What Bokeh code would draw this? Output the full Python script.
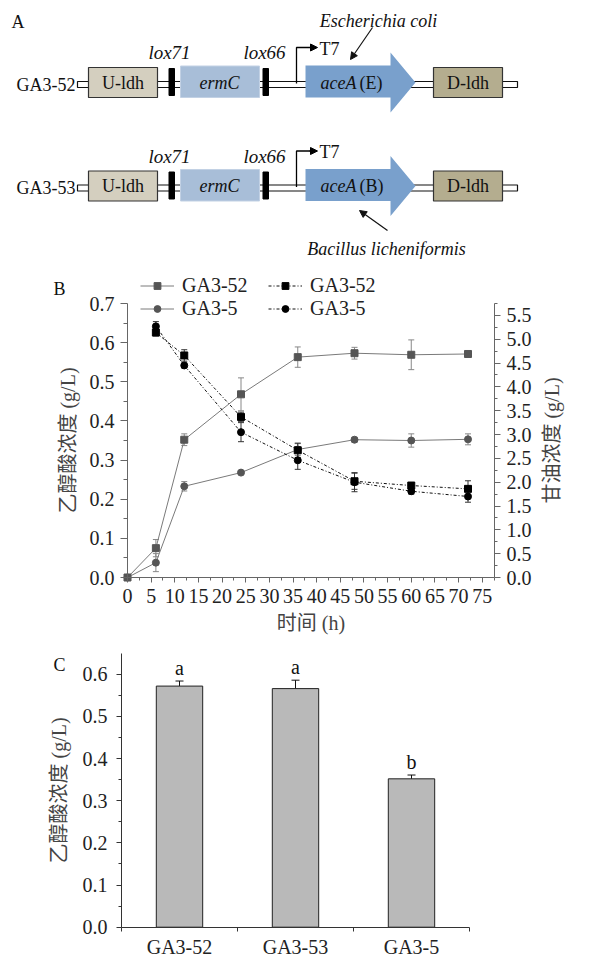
import math
from bokeh.plotting import figure
from bokeh.models import (Range1d, LinearAxis, FixedTicker, Whisker, TeeHead, ColumnDataSource,
                          Legend, LegendItem, Arrow, NormalHead, Label, NumeralTickFormatter)
from bokeh.embed import file_html
from bokeh.resources import INLINE
from bokeh.core.properties import value

# ---------------- data ----------------
hours = [0, 6, 12, 24, 36, 48, 60, 72]
ga52_acid = [0.0, 0.075, 0.352, 0.468, 0.563, 0.573, 0.569, 0.571]
ga52_acid_err = [0.0, 0.022, 0.015, 0.042, 0.026, 0.015, 0.038, 0.006]
ga5_acid = [0.0, 0.038, 0.233, 0.268, 0.327, 0.352, 0.350, 0.353]
ga5_acid_err = [0.0, 0.023, 0.012, 0.003, 0.015, 0.006, 0.017, 0.014]

gly_hours = [6, 12, 24, 36, 48, 60, 72]
ga52_gly = [5.14, 4.66, 3.37, 2.67, 2.02, 1.93, 1.86]
ga52_gly_err = [0.07, 0.12, 0.10, 0.15, 0.17, 0.06, 0.17]
ga5_gly = [5.27, 4.45, 3.05, 2.46, 2.00, 1.81, 1.70]
ga5_gly_err = [0.10, 0.05, 0.20, 0.19, 0.20, 0.06, 0.12]

strains = ["GA3-52", "GA3-53", "GA3-5"]
final_acid = [0.572, 0.566, 0.352]
final_acid_err = [0.012, 0.020, 0.009]
sig_letters = ["a", "a", "b"]

x_ticks = [0, 5, 10, 15, 20, 25, 30, 35, 40, 45, 50, 55, 60, 65, 70, 75]
acid_ticks = [0.0, 0.1, 0.2, 0.3, 0.4, 0.5, 0.6, 0.7]
gly_ticks = [0.0, 0.5, 1.0, 1.5, 2.0, 2.5, 3.0, 3.5, 4.0, 4.5, 5.0, 5.5]
bar_ticks = [0.0, 0.1, 0.2, 0.3, 0.4, 0.5, 0.6]

constructs = ["GA3-52", "GA3-53"]
acea_origin = ["(E)", "(B)"]
species = ["Escherichia coli", "Bacillus licheniformis"]

SERIF = "'Liberation Serif', 'Times New Roman', serif"
CJK = "'Liberation Serif', 'Noto Sans CJK SC', serif"


def x_span(px_lo, px_hi, v_lo, v_hi, width):
    """data range whose v_lo..v_hi lands on canvas pixels px_lo..px_hi"""
    s = (px_hi - px_lo) / (v_hi - v_lo)
    return v_lo - px_lo / s, v_lo + (width - px_lo) / s


def y_span(px_bottom, px_top, v_lo, v_hi, height):
    s = (px_bottom - px_top) / (v_hi - v_lo)
    return v_lo - (height - px_bottom) / s, v_lo + px_bottom / s


# ---------------- panel A (schematic) ----------------
pA = figure(width=612, height=270, x_range=Range1d(0, 612), y_range=Range1d(270, 0),
            output_backend="svg", toolbar_location=None, min_border=0,
            x_axis_location=None, y_axis_location=None)
pA.grid.visible = False
pA.outline_line_color = None

row_y = [82.0, 185.5]
lefts = lambda v: [v for _ in row_y]

def txt(x, y, t, size="18px", style="normal", align="center", color="#111"):
    pA.text(x=x, y=y, text=t, text_font=value(SERIF), text_font_size=value(size),
            text_font_style=style, text_align=align, text_baseline="middle", text_color=color)

pA.quad(left=lefts(77), right=lefts(517), top=[y - 1 for y in row_y], bottom=[y + 5 for y in row_y],
        fill_color="white", line_color="#111", line_width=1.2)
pA.quad(left=lefts(88), right=lefts(157), top=[y - 15 for y in row_y], bottom=[y + 15 for y in row_y],
        fill_color="#d4cfbf", line_color="#333", line_width=1.2)
pA.quad(left=lefts(180), right=lefts(259), top=[y - 16.5 for y in row_y], bottom=[y + 15 for y in row_y],
        fill_color="#a8bed8", line_color="#c2d1e4", line_width=1)
for lx in (168.5, 262.5):
    pA.quad(left=lefts(lx), right=lefts(lx + 5.5), top=[y - 14 for y in row_y], bottom=[y + 13 for y in row_y],
            fill_color="#000", line_color="#000")
pA.patches(xs=[[305, 390, 390, 415, 390, 390, 305] for _ in row_y],
           ys=[[y - 17, y - 17, y - 30, y, y + 30, y + 15, y + 15] for y in row_y],
           fill_color="#79a0cc", line_color=None)
pA.quad(left=lefts(433), right=lefts(502), top=[y - 15 for y in row_y], bottom=[y + 15 for y in row_y],
        fill_color="#b4ad8f", line_color="#333", line_width=1.2)
pA.multi_line(xs=[[296, 296, 311] for _ in row_y], ys=[[y + 1, y - 35, y - 35] for y in row_y],
              line_color="#000", line_width=1.3)
for y in row_y:
    pA.add_layout(Arrow(x_start=309, y_start=y - 35, x_end=317, y_end=y - 35, line_color="#000",
                        line_width=1, end=NormalHead(size=7, fill_color="#000", line_color="#000")))
txt([319 for _ in row_y], [y - 34 for y in row_y], ["T7", "T7"], align="left")

txt([75 for _ in row_y], [y + 2 for y in row_y], constructs, align="right")
txt([122.5 for _ in row_y], [y for y in row_y], ["U-ldh", "U-ldh"])
txt([467.5 for _ in row_y], [y for y in row_y], ["D-ldh", "D-ldh"])
txt([219 for _ in row_y], [y for y in row_y], ["ermC", "ermC"], style="italic")
txt([169 for _ in row_y], [y - 30 for y in row_y], ["lox71", "lox71"], size="19px", style="italic")
txt([264 for _ in row_y], [y - 30 for y in row_y], ["lox66", "lox66"], size="19px", style="italic")
txt([356 for _ in row_y], [y for y in row_y], ["aceA", "aceA"], style="italic", align="right")
txt([359 for _ in row_y], [y for y in row_y], acea_origin, align="left")

txt([378], [20], [species[0]], style="italic")
txt([386], [248], [species[1]], style="italic")
pA.add_layout(Arrow(x_start=372, y_start=27, x_end=350, y_end=59, line_color="#111", line_width=1.2,
                    end=NormalHead(size=7, fill_color="#111", line_color="#111")))
pA.add_layout(Arrow(x_start=387, y_start=230, x_end=359, y_end=210, line_color="#111", line_width=1.2,
                    end=NormalHead(size=7, fill_color="#111", line_color="#111")))
txt([17.5], [21], ["A"], size="18px")

# ---------------- panel B (time course) ----------------
WB, HB = 612, 370
bx0, bx1 = x_span(127, 494, 0, 77.6, WB)
by0, by1 = y_span(307, 33, 0, 0.7, HB)
gy0, gy1 = y_span(307, 33, 0, 5.75, HB)
pB = figure(width=WB, height=HB, x_range=Range1d(bx0, bx1), y_range=Range1d(by0, by1),
            output_backend="svg", toolbar_location=None, min_border=0,
            x_axis_location=None, y_axis_location=None)
pB.extra_y_ranges = {"gly": Range1d(gy0, gy1)}
pB.grid.visible = False
pB.outline_line_color = None

GRAY_L = "#7a7a7a"
GRAY_M = "#555555"

l1 = pB.line(hours, ga52_acid, line_color=GRAY_L, line_width=1)
m1 = pB.scatter(hours, ga52_acid, marker="square", size=7, fill_color=GRAY_M, line_color=GRAY_M)
l2 = pB.line(hours, ga5_acid, line_color=GRAY_L, line_width=1)
m2 = pB.scatter(hours, ga5_acid, marker="circle", size=7, fill_color=GRAY_M, line_color=GRAY_M)
l3 = pB.line(gly_hours, ga52_gly, y_range_name="gly", line_color="#111", line_width=1, line_dash="3 2 1 2")
m3 = pB.scatter(gly_hours, ga52_gly, y_range_name="gly", marker="square", size=7, fill_color="#000", line_color="#000")
l4 = pB.line(gly_hours, ga5_gly, y_range_name="gly", line_color="#111", line_width=1, line_dash="3 2 1 2")
m4 = pB.scatter(gly_hours, ga5_gly, y_range_name="gly", marker="circle", size=7, fill_color="#000", line_color="#000")

def whisk(fig, xs, vals, errs, color, size=6, rng=None):
    src = ColumnDataSource(dict(x=xs, lo=[v - e for v, e in zip(vals, errs)], hi=[v + e for v, e in zip(vals, errs)]))
    kw = dict(source=src, base="x", lower="lo", upper="hi", line_color=color, line_width=1,
              lower_head=TeeHead(size=size, line_color=color, line_width=1),
              upper_head=TeeHead(size=size, line_color=color, line_width=1))
    if rng:
        kw["y_range_name"] = rng
    fig.add_layout(Whisker(**kw))

whisk(pB, hours[1:], ga52_acid[1:], ga52_acid_err[1:], "#888")
whisk(pB, hours[1:], ga5_acid[1:], ga5_acid_err[1:], "#888")
whisk(pB, gly_hours, ga52_gly, ga52_gly_err, "#333", rng="gly")
whisk(pB, gly_hours, ga5_gly, ga5_gly_err, "#333", rng="gly")

xB = LinearAxis(fixed_location=0, bounds=(0, 77.6))
yB = LinearAxis(fixed_location=0, bounds=(0, 0.7))
rB = LinearAxis(fixed_location=77.6, bounds=(0, 5.75), y_range_name="gly")
pB.add_layout(xB, "below")
pB.add_layout(yB, "left")
pB.add_layout(rB, "right")

xB.ticker = FixedTicker(ticks=x_ticks, minor_ticks=[2.5 * k for k in range(32)])
yB.ticker = FixedTicker(ticks=acid_ticks, minor_ticks=[0.05 + 0.1 * k for k in range(7)])
rB.ticker = FixedTicker(ticks=gly_ticks, minor_ticks=[0.25 + 0.5 * k for k in range(12)])
yB.formatter = NumeralTickFormatter(format="0.0")
rB.formatter = NumeralTickFormatter(format="0.0")

for ax in (xB, yB, rB):
    ax.axis_line_color = "#666"
    ax.major_tick_line_color = "#666"
    ax.minor_tick_line_color = "#666"
    ax.major_tick_in = 0
    ax.minor_tick_in = 0
    ax.major_tick_out = 7
    ax.minor_tick_out = 4
    ax.major_label_text_font = SERIF
    ax.major_label_text_font_size = "20px"
    ax.major_label_text_color = "#222"
    ax.axis_label_text_font = CJK
    ax.axis_label_text_font_size = "20px"
    ax.axis_label_text_font_style = "normal"
    ax.axis_label_text_color = "#444"

xB.major_tick_out = 5
xB.minor_tick_out = 3
xB.major_label_standoff = 6
xB.axis_label = "时间 (h)"
xB.axis_label_standoff = 6
yB.axis_label = "乙醇酸浓度 (g/L)"
yB.major_label_standoff = 6
yB.axis_label_standoff = 8
rB.major_tick_out = 6
rB.minor_tick_out = 3
rB.major_label_standoff = 6

kB = (494 - 127) / 77.6
sB = (307 - 33) / 0.7
pB.add_layout(Label(x=(551 - 127) / kB, y=0.35, text="甘油浓度 (g/L)", angle=math.pi / 2,
                    text_font=CJK, text_font_size="20px", text_color="#444",
                    text_align="center", text_baseline="middle"))
pB.add_layout(Label(x=(53 - 127) / kB, y=(307 - 18.5) / sB, text="B", text_font=SERIF,
                    text_font_size="18px", text_align="left", text_baseline="middle", text_color="#111"))

legend = Legend(items=[LegendItem(label="GA3-52", renderers=[l1, m1]),
                       LegendItem(label="GA3-5", renderers=[l2, m2]),
                       LegendItem(label="GA3-52", renderers=[l3, m3]),
                       LegendItem(label="GA3-5", renderers=[l4, m4])],
                location=(140, HB - 16 - 34), nrows=2, orientation="vertical",
                padding=0, margin=0, spacing=0, label_standoff=8,
                glyph_width=34, glyph_height=17, label_height=17, label_width=86,
                border_line_alpha=0, background_fill_alpha=0,
                label_text_font=SERIF, label_text_font_size="20px", label_text_color="#222")
pB.add_layout(legend)

# ---------------- panel C (bars) ----------------
WC, HC = 612, 318
cx0, cx1 = x_span(121, 469, 0.5, 3.5, WC)
cy0, cy1 = y_span(286.7, 12.7, 0, 0.65, HC)
pC = figure(width=WC, height=HC, x_range=Range1d(cx0, cx1), y_range=Range1d(cy0, cy1),
            output_backend="svg", toolbar_location=None, min_border=0,
            x_axis_location=None, y_axis_location=None)
pC.grid.visible = False
pC.outline_line_color = None
positions = list(range(1, len(strains) + 1))
pC.vbar(x=positions, top=final_acid, width=0.4, fill_color="#b9b9b9", line_color="#222", line_width=1)
whisk(pC, positions, final_acid, final_acid_err, "#111", size=8)
pC.text(x=positions, y=[v + e for v, e in zip(final_acid, final_acid_err)], text=sig_letters,
        text_font=value(SERIF), text_font_size=value("20px"), text_align="center",
        text_baseline="bottom", y_offset=-2, text_color="#111")

xC = LinearAxis(fixed_location=0, bounds=(0.5, 3.5))
yC = LinearAxis(fixed_location=0.5, bounds=(0, 0.65))
pC.add_layout(xC, "below")
pC.add_layout(yC, "left")
xC.ticker = FixedTicker(ticks=positions, minor_ticks=[0.5, 1.5, 2.5, 3.5])
xC.major_label_overrides = {p: s for p, s in zip(positions, strains)}
yC.ticker = FixedTicker(ticks=bar_ticks, minor_ticks=[0.05 + 0.1 * k for k in range(6)])
yC.formatter = NumeralTickFormatter(format="0.0")
for ax in (xC, yC):
    ax.axis_line_color = "#333"
    ax.major_tick_line_color = "#333"
    ax.minor_tick_line_color = "#333"
    ax.major_tick_in = 0
    ax.minor_tick_in = 0
    ax.major_tick_out = 5
    ax.minor_tick_out = 3
    ax.major_label_text_font = SERIF
    ax.major_label_text_font_size = "20px"
    ax.major_label_text_color = "#222"
    ax.axis_label_text_font = CJK
    ax.axis_label_text_font_size = "20px"
    ax.axis_label_text_font_style = "normal"
    ax.axis_label_text_color = "#444"
xC.major_tick_out = 0
xC.minor_tick_out = 4
xC.major_label_standoff = 5
yC.major_label_standoff = 9
yC.axis_label = "乙醇酸浓度 (g/L)"
yC.axis_label_standoff = 10

kC = (469 - 121) / 3.0
sC = (286.7 - 12.7) / 0.65
pC.add_layout(Label(x=0.5 + (53 - 121) / kC, y=(286.7 - 24) / sC, text="C", text_font=SERIF,
                    text_font_size="18px", text_align="left", text_baseline="middle", text_color="#111"))

open("out.html", "w").write(file_html([pA, pB, pC], INLINE))
